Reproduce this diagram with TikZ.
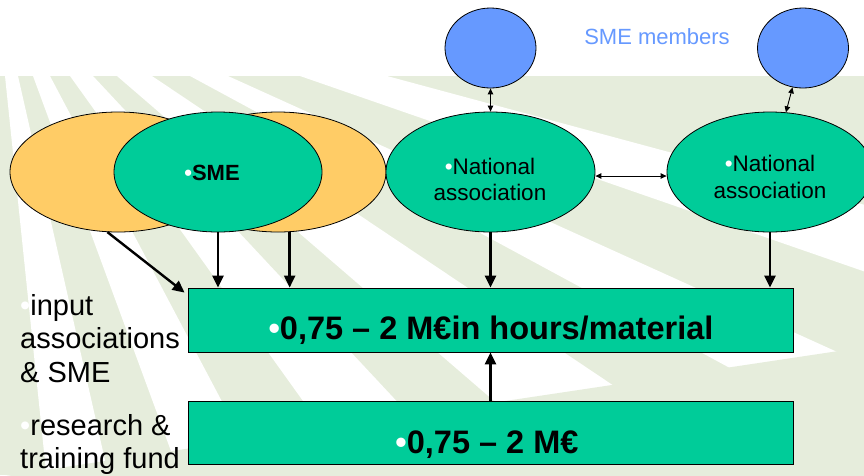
\documentclass[tikz,border=0pt]{standalone}
\usepackage{fontspec}
\setmainfont{Liberation Sans}
\usetikzlibrary{arrows.meta,shapes.geometric,calc}
\definecolor{bggreen}{RGB}{230,237,220}
\definecolor{orng}{RGB}{255,204,102}
\definecolor{grn}{RGB}{0,204,153}
\definecolor{blu}{RGB}{102,153,255}
\newcommand{\wbul}{{\color{white}•}}
\tikzset{
  ellbase/.style={ellipse, draw=black, line width=0.8pt, inner sep=0pt},
  orangeell/.style={ellbase, fill=orng, minimum width=216pt, minimum height=120pt},
  greenell/.style={ellbase, fill=grn, minimum height=120pt},
  blueell/.style={ellbase, fill=blu, minimum width=91pt, minimum height=80pt},
  boxnode/.style={rectangle, draw=black, line width=0.8pt, fill=grn, inner sep=0pt, minimum width=605pt},
  thickarrow/.style={line width=2.4pt, -{Triangle[length=12pt,width=11pt]}},
  dblarrow/.style={line width=0.9pt, {Triangle[length=6pt,width=5.5pt]}-{Triangle[length=6pt,width=5.5pt]}},
  nattext/.style={align=center, font=\fontsize{22.5pt}{26.5pt}\selectfont, inner sep=0pt},
  boxtext/.style={font=\fontsize{32.5pt}{38pt}\selectfont\bfseries, inner sep=0pt, anchor=base},
  sidetext/.style={align=left, font=\fontsize{29pt}{33.5pt}\selectfont, inner sep=0pt, anchor=north west}
}
\begin{document}
\begin{tikzpicture}[x=1pt,y=-1pt]
\useasboundingbox (0,0) rectangle (864,475);
% background
\fill[white] (0,0) rectangle (864,475);
\fill[bggreen] (0,76) rectangle (864,475);
\begin{scope}
  \clip (0,76) rectangle (864,475);
  \foreach \a/\b in {5/18, 33/50, 70/93, 117/152, 190/228, 300/387} {
    \fill[white] (-6,-30) -- ({-6+12*(\a+6)},1242) -- ({-6+12*(\b+6)},1242) -- cycle;
  }
  \fill[bggreen] (864,347.2) -- (0,476.8) -- (0,480) -- (864,480) -- cycle;
\end{scope}
% ellipses
\node[orangeell] (o1) at (118,172) {};
\node[orangeell] (o2) at (278,172) {};
\node[greenell, minimum width=208pt] (sme) at (218,172) {};
\node[font=\fontsize{22pt}{26pt}\selectfont\bfseries, inner sep=0pt, anchor=base] (smet) at (212,180) {\wbul SME};
\node[greenell, minimum width=209pt] (n1) at (490.5,172) {};
\node[nattext] (n1t) at (490,179.5) {\wbul National\\association};
\node[greenell, minimum width=206pt] (n2) at (770,172) {};
\node[nattext] (n2t) at (770,177) {\wbul National\\association};
\node[blueell] (b1) at (490.5,48) {};
\node[blueell] (b2) at (803,48) {};
\node[text=blu, font=\fontsize{22pt}{26pt}\selectfont, inner sep=0pt] (smem) at (657,37) {SME members};
% boxes
\node[boxnode, minimum height=64pt] (r1) at (490.5,320) {};
\node[boxtext] (r1t) at (491,339) {\wbul 0,75 – 2 M€in hours/material};
\node[boxnode, minimum height=63pt] (r2) at (490.5,432.5) {};
\node[boxtext] (r2t) at (487,453) {\wbul 0,75 – 2 M€};
% side labels
\node[sidetext] (lab1) at (20,294) {\wbul input\\associations\\\& SME};
\node[sidetext] (lab2) at (20,414) {\wbul research \&\\training fund};
% connectors
\draw[thickarrow] (o1.-100.4) -- ($(r1.north west)+(-3,5)$);
\draw[thickarrow] (sme.south) -- (sme.south |- r1.north);
\draw[thickarrow] (o2.-79.6) -- (o2.-79.6 |- r1.north);
\draw[thickarrow] (n1.south) -- (n1.south |- r1.north);
\draw[thickarrow] (n2.south) -- (n2.south |- r1.north);
\draw[thickarrow] (r2.north) -- (r1.south);
\draw[dblarrow] (b1) -- (n1);
\draw[dblarrow] (b2) -- (n2);
\draw[dblarrow] ([yshift=-4pt]n1.east) -- ([yshift=-4pt]n2.west);
\end{tikzpicture}
\end{document}
